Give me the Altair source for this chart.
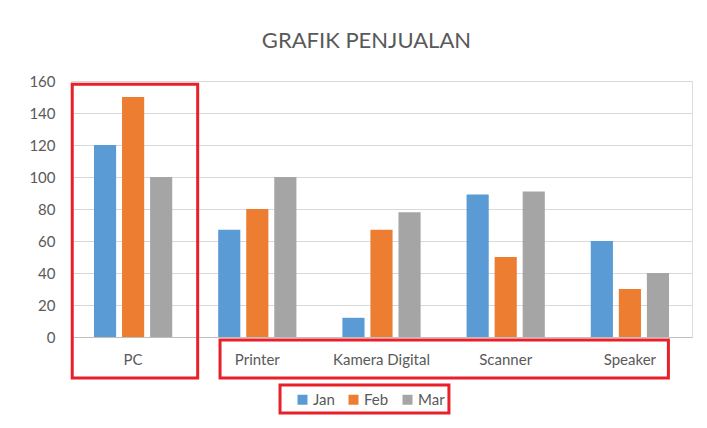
import altair as alt
import pandas as pd

products = ["PC", "Printer", "Kamera Digital", "Scanner", "Speaker"]
months = ["Jan", "Feb", "Mar"]
jan = [120, 67, 12, 89, 60]
feb = [150, 80, 67, 50, 30]
mar = [100, 100, 78, 91, 40]
colors = ["#5B9BD5", "#ED7D31", "#A5A5A5"]
y_ticks = [0, 20, 40, 60, 80, 100, 120, 140, 160]

# highlight boxes (x in category-step units, y in data units)
box_x = [0.01, 1.2, 1.683]
box_x2 = [1.02, 4.81, 3.043]
box_y = [158, -1.9, -30]
box_y2 = [-25.6, -25.6, -47.5]

rows = []
for i, p in enumerate(products):
    for m, vals in zip(months, [jan, feb, mar]):
        rows.append({"Produk": p, "Bulan": m, "Jumlah": vals[i]})
df = pd.DataFrame(rows)
box_df = pd.DataFrame({"x": box_x, "x2": box_x2, "y": box_y, "y2": box_y2})

FONT = "Lato"
GRAY = "#595959"
RED = "#E8202A"

y_axis = alt.Axis(title=None, values=y_ticks, ticks=False, domain=False, grid=True,
                  labelOverlap=False, labelPadding=16, labelFontSize=15,
                  labelColor=GRAY, labelFont=FONT, gridColor="#D9D9D9")
y_scale = alt.Scale(domain=[0, 160], nice=False)

bars = alt.Chart(df).mark_bar().encode(
    x=alt.X("Produk:N", sort=products,
            scale=alt.Scale(paddingInner=0.37, paddingOuter=0.185),
            axis=alt.Axis(title=None, labelAngle=0, ticks=False, labelPadding=15,
                          labelFontSize=15, labelColor=GRAY, labelFont=FONT,
                          domain=True, domainColor="#BFBFBF", grid=False)),
    xOffset=alt.XOffset("Bulan:N", sort=months,
                        scale=alt.Scale(paddingInner=0.21, paddingOuter=0)),
    y=alt.Y("Jumlah:Q", scale=y_scale, axis=y_axis),
    color=alt.Color("Bulan:N", sort=months,
                    scale=alt.Scale(domain=months, range=colors),
                    legend=alt.Legend(title=None, orient="none", legendX=224, legendY=311,
                                      direction="horizontal",
                                      padding=0, symbolType="square",
                                      symbolSize=100, symbolStrokeWidth=0,
                                      labelFontSize=15, labelColor=GRAY, labelFont=FONT,
                                      columnPadding=11, labelOffset=3)),
)

boxes = alt.Chart(box_df).mark_rect(fillOpacity=0, stroke=RED, strokeWidth=3, clip=False).encode(
    x=alt.X("x:Q", scale=alt.Scale(domain=[0, 5], nice=False, zero=False), axis=None),
    x2="x2:Q",
    y=alt.Y("y:Q", scale=y_scale, axis=y_axis),
    y2="y2:Q",
)

chart = alt.layer(bars, boxes).resolve_scale(x="independent").properties(
    width=621, height=256,
    title=alt.TitleParams("GRAFIK PENJUALAN", fontSize=22, font=FONT, fontWeight="normal",
                          color=GRAY, anchor="middle", frame="bounds", offset=21, dx=6),
    autosize=alt.AutoSizeParams(type="none"),
    padding={"left": 63, "top": 73, "right": 4, "bottom": 82},
).configure_view(stroke="transparent", strokeWidth=0).configure_axis(
    domain=False, grid=False
).configure(background="white")

chart.save("out.html", embed_options={"renderer": "svg", "actions": False})
